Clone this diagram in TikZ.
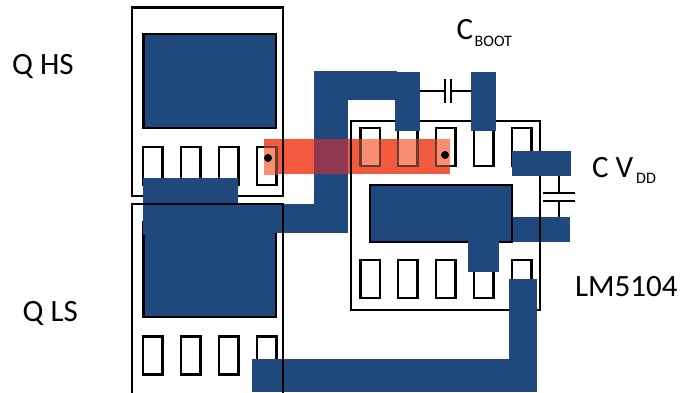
\documentclass[tikz,border=0pt]{standalone}
\usepackage{fontspec}
\setmainfont{Carlito}
\definecolor{padblue}{HTML}{1F497D}
\definecolor{stripred}{HTML}{F25A3E}
\definecolor{stripover}{HTML}{8F3850}
\definecolor{pinlight}{HTML}{F98F70}
\definecolor{pindark}{HTML}{6B3A30}
\tikzset{
  x=1bp,y=-1bp,
  outline/.style={draw=black,line width=2.3bp},
  pin/.style={draw=black,fill=white,line width=2.3bp},
  pininstrip/.style={draw=pindark,fill=pinlight,line width=2.3bp},
  copper/.style={fill=padblue},
  padbox/.style={draw=black,fill=padblue,line width=2.3bp},
  wire/.style={draw=black,line width=2bp},
  lbl/.style={anchor=base west,inner sep=0pt,text=black},
  via/.style={fill=black}
}
\newcommand{\biglabel}{\fontsize{31bp}{33bp}\selectfont}
\newcommand{\smalllabel}{\fontsize{16bp}{18bp}\selectfont}
\newcommand{\PinRow}[3]{%
  \foreach \px in {#1}{\draw[#2] (\px,#3) rectangle ++(19.5,38);}}
\begin{document}
\begin{tikzpicture}
\useasboundingbox (0,0) rectangle (681,392);
\clip (0,0) rectangle (681,392);
% Q HS
\draw[outline,fill=white] (132,7.5) rectangle (283,196);
\draw[padbox] (143.5,34) rectangle (276,128);
\PinRow{143,181,219,257}{pin}{147}
% Q LS inner
\draw[padbox] (143.5,222) rectangle (276,317);
\PinRow{143,181,219,257}{pin}{336.5}
% VDD lower pad, under the LM5104 outline
\fill[copper] (511,217) rectangle (570,242);
% LM5104
\draw[outline] (351,121) rectangle (540,310);
\PinRow{360.5,398,436,474,512}{pin}{128}
\PinRow{360.5,398,436,474,512}{pin}{260}
\draw[padbox] (370,185) rectangle (512,242);
% Capacitors
\coordinate (bootL) at (420,90.5);
\coordinate (bootR) at (471,90.5);
\coordinate (bootA) at (444.5,90.5);
\coordinate (bootB) at (450.5,90.5);
\coordinate (vddT) at (559,176);
\coordinate (vddB) at (559,217);
\coordinate (vddA) at (559,192.5);
\coordinate (vddC) at (559,200.5);
\draw[wire] (bootL) -- (bootA) (bootB) -- (bootR);
\draw[wire] (444.5,79) -- (444.5,102.5) (450.5,79) -- (450.5,102.5);
\draw[wire] (vddT) -- (vddA) (vddC) -- (vddB);
\draw[wire] (543,192.5) -- (575,192.5) (543,200.5) -- (575,200.5);
% Copper traces
\fill[copper] (143,178) rectangle (238,235);
\fill[copper] (143,204) rectangle (348,233);
\fill[copper] (314,71) rectangle (348,233);
\fill[copper] (314,71) rectangle (397,100);
\fill[copper] (395,72) rectangle (420,131);
\fill[copper] (471,72) rectangle (496,131);
\fill[copper] (512,151) rectangle (571,176);
\fill[copper] (468,240) rectangle (499,272);
\fill[copper] (509,279) rectangle (537,392);
\fill[copper] (252,359) rectangle (537,392);
% Q LS outline over the copper
\draw[outline] (132,204) rectangle (283,410);
% Red strip
\fill[stripred] (264,139) rectangle (450,174);
\fill[stripover] (314,139) rectangle (348,174);
\begin{scope}
  \clip (264,139) rectangle (450,174);
  \draw[pininstrip] (257,147) rectangle ++(19.5,38);
  \PinRow{360.5,398,436}{pininstrip}{128}
  \draw[outline] (132,7.5) rectangle (283,196);
  \draw[outline] (351,121) rectangle (540,310);
\end{scope}
\fill[via] (268,158) circle (4);
\fill[via] (445,155) circle (4);
% Labels
\node[lbl] (qhs) at (12,74.5) {\biglabel Q HS};
\node[lbl] (qls) at (22.5,321) {\biglabel Q LS};
\node[lbl] (cboot) at (456.5,39.5) {\biglabel C};
\node[lbl] (boot) at (474.5,46) {\smalllabel BOOT};
\node[lbl] (cvdd) at (592,177.5) {\biglabel C V};
\node[lbl] (dd) at (636,183) {\smalllabel DD};
\node[lbl] (lm) at (575,296) {\biglabel LM5104};
\end{tikzpicture}
\end{document}
